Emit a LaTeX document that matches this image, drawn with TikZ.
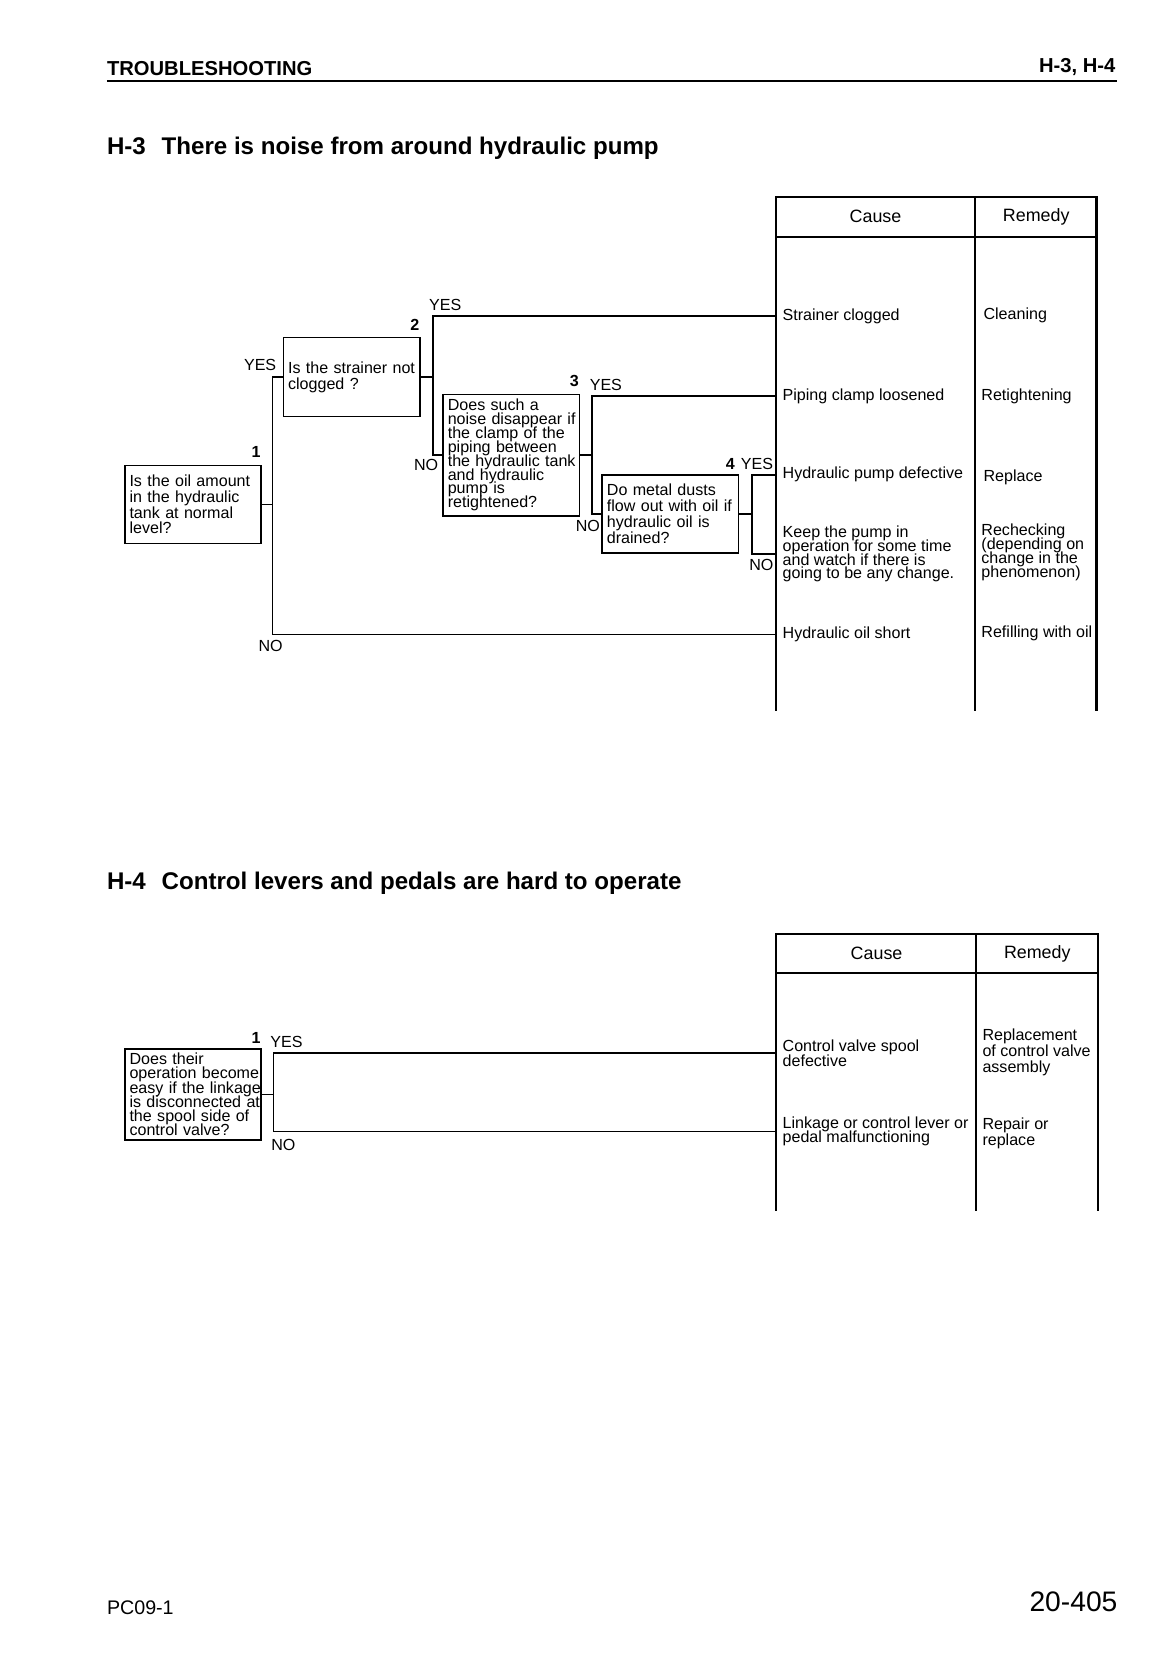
\documentclass[tikz,border=0pt]{standalone}
\usepackage{fontspec}
\setmainfont{Liberation Sans}
\usetikzlibrary{positioning}

\tikzset{
  qbox/.style={draw, line width=1.4pt, minimum width=129pt, text width=126pt,
    inner xsep=1.5pt, inner ysep=0pt, align=left},
  qlead/.style={execute at begin node={\baselineskip=#1pt\lineskiplimit=-20pt
    \leftskip=3pt\rightskip=-3pt plus 1fil}},
  link/.style={line width=1.5pt},
  tline/.style={line width=1.9pt},
  lbl/.style={inner sep=0pt, font=\fontsize{15.2}{16}\selectfont},
  num/.style={inner sep=0pt, anchor=south east, font=\bfseries\fontsize{15.2}{16}\selectfont},
  cell/.style={anchor=west, inner xsep=6pt, inner ysep=0pt, align=left},
  head/.style={inner sep=0pt, font=\fontsize{16.9}{18}\selectfont},
  title/.style={anchor=base west, inner sep=0pt, font=\bfseries\fontsize{22.8}{24}\selectfont},
}

\begin{document}
\lineskiplimit=-20pt
\hyphenpenalty=10000
\begin{tikzpicture}[x=1pt, y=-1pt, font=\fontsize{15.2}{14}\selectfont]
  \useasboundingbox (0,0) rectangle (1104,1569);

  % page head
  \node[anchor=base west, inner sep=0pt, font=\bfseries\fontsize{19.1}{20}\selectfont] (pagehead) at (101,71) {TROUBLESHOOTING};
  \node[anchor=base east, inner sep=0pt, font=\bfseries\fontsize{19.1}{20}\selectfont] (pagesec) at (1055,69) {H-3, H-4};
  \draw[line width=2pt] (101,77) -- (1056,77);

  % ---------------- H-3 ----------------
  \node[title] (titleA) at (101,146) {H-3\hspace{15pt}There is noise from around hydraulic pump};

  % table
  \draw[tline] (734,672) -- (734,186) -- (1037,186) -- (1037,672);
  \draw[tline] (734,224) -- (1037,224);
  \draw[tline] (922,186) -- (922,672);
  \node[head] (causeA) at (828,205) {Cause};
  \node[head] (remedyA) at (980,205) {Remedy};

  \node[cell] (c1) at (734,299) {Strainer clogged};
  \node[cell] (c2) at (734,374.5) {Piping clamp loosened};
  \node[cell] (c3) at (734,449) {Hydraulic pump defective};
  \node[cell, font=\fontsize{15.2}{13}\selectfont] (c4) at (734,524) {Keep the pump in\\operation for some time\\and watch if there is\\going to be any change.};
  \node[cell] (c5) at (734,600) {Hydraulic oil short};

  \node[cell, inner xsep=8pt] (r1) at (922,298) {Cleaning};
  \node[cell] (r2) at (922,375) {Retightening};
  \node[cell, inner xsep=8pt] (r3) at (922,451) {Replace};
  \node[cell, font=\fontsize{15.2}{13.3}\selectfont] (r4) at (922,522) {Rechecking\\(depending on\\change in the\\phenomenon)};
  \node[cell] (r5) at (922,599) {Refilling with oil};

  % questions
  \node[qbox, qlead=15, minimum height=74pt] (q1) at (182.5,477) {Is the oil amount\\in the hydraulic\\tank at normal\\level?};
  \node[qbox, qlead=15, minimum height=75pt] (q2) at (332.5,356.5) {Is the strainer not\\clogged ?};
  \node[qbox, qlead=13.1, minimum height=115pt] (q3) at (483.5,430.5) {Does such a\\noise disappear if\\the clamp of the\\piping between\\the hydraulic tank\\and hydraulic\\pump is\\retightened?};
  \node[qbox, qlead=15, minimum height=74pt] (q4) at (634,486) {Do metal dusts\\flow out with oil if\\hydraulic oil is\\drained?};

  \node[num, xshift=-1pt, yshift=6pt] (n1) at (q1.north east) {1};
  \node[num, xshift=-1pt, yshift=6pt] (n2) at (q2.north east) {2};
  \node[num, xshift=-1pt, yshift=6pt] (n3) at (q3.north east) {3};
  \node[num, xshift=-4pt, yshift=4pt] (n4) at (q4.north east) {4};

  % branches
  \draw[link] (q1.east) -- ++(10,0) coordinate (j1) |- (q2.west) (j1) |- (c5.west);
  \draw[link] (q2.east) -- ++(12,0) coordinate (j2) |- (c1.west) (j2) |- (q3.west);
  \draw[link] (q3.east) -- ++(11,0) coordinate (j3) |- (c2.west) (j3) |- (q4.west);
  \draw[link] (q4.east) -- ++(12,0) coordinate (j4) |- (c3.west) (j4) |- (c4.west);

  \node[lbl] (yes1) at (246,345) {YES};
  \node[lbl] (no1) at (256,611) {NO};
  \node[lbl] (yes2) at (421,288) {YES};
  \node[lbl] (no2) at (403,440) {NO};
  \node[lbl] (yes3) at (573,364) {YES};
  \node[lbl] (no3) at (556,497) {NO};
  \node[lbl] (yes4) at (716,439) {YES};
  \node[lbl] (no4) at (720,534) {NO};

  % ---------------- H-4 ----------------
  \node[title] (titleB) at (101,841) {H-4\hspace{15pt}Control levers and pedals are hard to operate};

  \draw[tline] (734,1145) -- (734,883) -- (1038,883) -- (1038,1145);
  \draw[tline] (734,920) -- (1038,920);
  \draw[tline] (923,883) -- (923,1145);
  \node[head] (causeB) at (829,902) {Cause};
  \node[head] (remedyB) at (981,902) {Remedy};

  \node[cell] (c6) at (734,996) {Control valve spool\\defective};
  \node[cell] (c7) at (734,1070) {Linkage or control lever or\\pedal malfunctioning};
  \node[cell, font=\fontsize{15.2}{15}\selectfont] (r6) at (923,995) {Replacement\\of control valve\\assembly};
  \node[cell, font=\fontsize{15.2}{15}\selectfont] (r7) at (923,1071.5) {Repair or\\replace};

  \node[qbox, qlead=13.4, minimum height=86pt] (q5) at (182.5,1035) {Does their\\operation become\\easy if the linkage\\is disconnected at\\the spool side of\\control valve?};
  \node[num, xshift=-1pt, yshift=4pt] (n5) at (q5.north east) {1};

  \draw[link] (q5.east) -- ++(11,0) coordinate (j5) |- (c6.west) (j5) |- (c7.west);

  \node[lbl] (yes5) at (271,985) {YES};
  \node[lbl] (no5) at (268,1083) {NO};

  % page foot
  \node[anchor=base west, inner sep=0pt, font=\fontsize{18.6}{20}\selectfont] (model) at (101,1527) {PC09-1};
  \node[anchor=base east, inner sep=0pt, font=\fontsize{26.7}{28}\selectfont] (pageno) at (1057,1524) {20-405};
\end{tikzpicture}
\end{document}
